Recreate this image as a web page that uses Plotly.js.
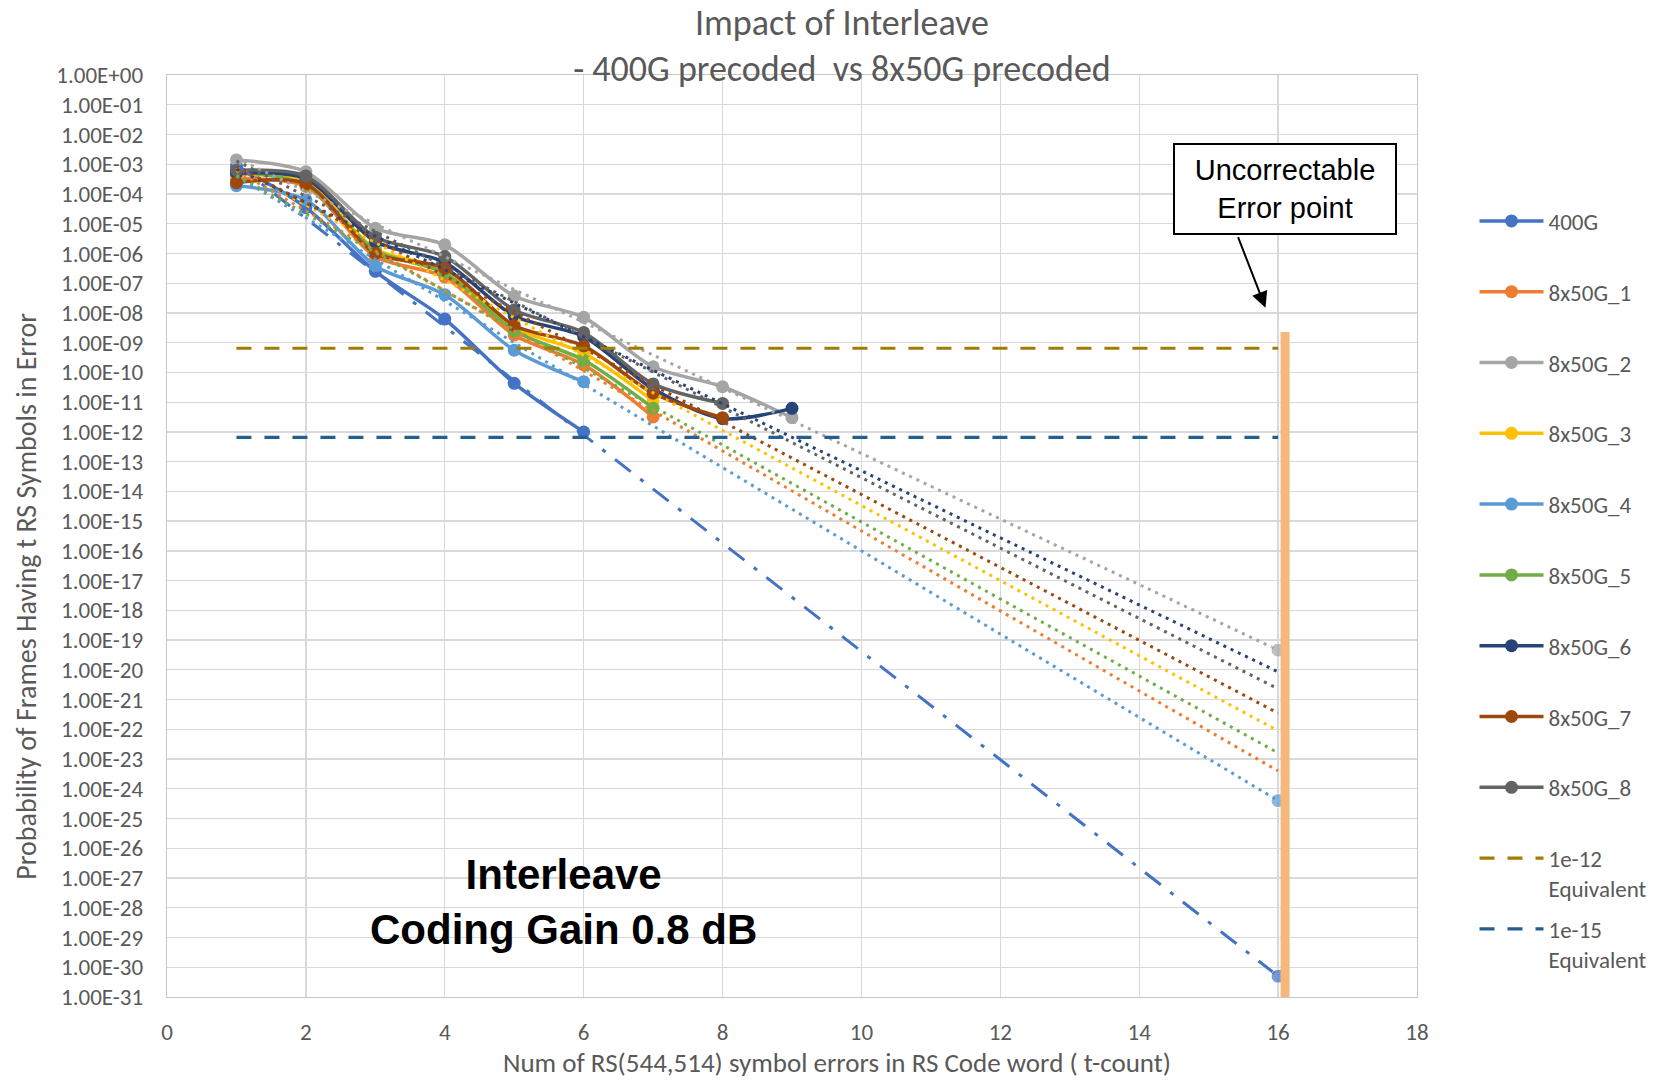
<!DOCTYPE html>
<html>
<head>
<meta charset="utf-8">
<script src="https://cdn.plot.ly/plotly-3.0.1.min.js"></script>
<style>html,body{margin:0;padding:0;background:#fff;}#chart{width:1665px;height:1081px;}</style>
</head>
<body>
<div id="chart"></div>
<script>
// ---- data ----
const seriesNames = ["400G","8x50G_1","8x50G_2","8x50G_3","8x50G_4","8x50G_5","8x50G_6","8x50G_7","8x50G_8"];
const xCounts = [1,2,3,4,5,6,7,8,9];
const y400G    = [8.9e-4, 3.5e-5, 2.5e-7, 6.2e-9, 4.3e-11, 1.0e-12];
const y8x50G_1 = [3.2e-4, 1.8e-4, 7.9e-7, 1.6e-7, 1.8e-9, 1.8e-10, 3.2e-12];
const y8x50G_2 = [1.4e-3, 5.6e-4, 7.1e-6, 1.95e-6, 3.7e-8, 7.1e-9, 1.55e-10, 3.3e-11, 3.0e-12];
const y8x50G_3 = [4.5e-4, 2.5e-4, 1.4e-6, 2.8e-7, 3.2e-9, 4.5e-10, 1.1e-11];
const y8x50G_4 = [1.9e-4, 6.3e-5, 3.8e-7, 4.1e-8, 5.6e-10, 4.9e-11];
const y8x50G_5 = [5.6e-4, 2.0e-4, 1.26e-6, 2.2e-7, 2.5e-9, 2.6e-10, 6.3e-12];
const y8x50G_6 = [5.0e-4, 3.2e-4, 2.5e-6, 5.0e-7, 7.9e-9, 1.6e-9, 2.8e-11, 2.8e-12, 6.2e-12];
const y8x50G_7 = [2.4e-4, 2.2e-4, 1.0e-6, 3.2e-7, 3.8e-9, 7.8e-10, 2.0e-11, 3.0e-12];
const y8x50G_8 = [6.3e-4, 4.0e-4, 3.5e-6, 7.9e-7, 1.26e-8, 2.2e-9, 4.1e-11, 9.1e-12];

// trendlines (exponential fits, straight on log axis) from t=1 to t=16
const trendX = [1, 16];
const trend400G    = [1.0e-3, 5.0e-31];
const trend8x50G_1 = [6.0e-4, 4.0e-24];
const trend8x50G_2 = [1.58e-3, 4.6e-20];
const trend8x50G_3 = [7.8e-4, 8.9e-23];
const trend8x50G_4 = [4.0e-4, 4.0e-25];
const trend8x50G_5 = [4.2e-4, 1.6e-23];
const trend8x50G_6 = [6.9e-4, 8.5e-21];
const trend8x50G_7 = [8.4e-4, 3.5e-22];
const trend8x50G_8 = [1.29e-3, 2.3e-21];

// equivalent reference levels
const eqX = [1, 16];
const eq1e12 = [6.5e-10, 6.5e-10];
const eq1e15 = [6.5e-13, 6.5e-13];

// uncorrectable error point bar
const uncX = [16.1, 16.1];
const uncY = [2.3e-9, 1e-31];

const xTickVals = [0,2,4,6,8,10,12,14,16,18];
const yTickVals = [1e0,1e-1,1e-2,1e-3,1e-4,1e-5,1e-6,1e-7,1e-8,1e-9,1e-10,1e-11,1e-12,1e-13,1e-14,1e-15,1e-16,1e-17,1e-18,1e-19,1e-20,1e-21,1e-22,1e-23,1e-24,1e-25,1e-26,1e-27,1e-28,1e-29,1e-30,1e-31];
const yTickText = ["1.00E+00","1.00E-01","1.00E-02","1.00E-03","1.00E-04","1.00E-05","1.00E-06","1.00E-07","1.00E-08","1.00E-09","1.00E-10","1.00E-11","1.00E-12","1.00E-13","1.00E-14","1.00E-15","1.00E-16","1.00E-17","1.00E-18","1.00E-19","1.00E-20","1.00E-21","1.00E-22","1.00E-23","1.00E-24","1.00E-25","1.00E-26","1.00E-27","1.00E-28","1.00E-29","1.00E-30","1.00E-31"];

// ---- styling ----
const colors = ["#4472C4","#ED7D31","#A5A5A5","#FFC000","#5B9BD5","#70AD47","#264478","#9E480E","#636363"];
const seriesY = [y400G,y8x50G_1,y8x50G_2,y8x50G_3,y8x50G_4,y8x50G_5,y8x50G_6,y8x50G_7,y8x50G_8];
const trendY = [trend400G,trend8x50G_1,trend8x50G_2,trend8x50G_3,trend8x50G_4,trend8x50G_5,trend8x50G_6,trend8x50G_7,trend8x50G_8];
const endMarker = [true,false,true,false,true,false,false,false,false];
const F = "Carlito, Lato, 'Open Sans', sans-serif";
const grey = "#595959";

const traces = [];
seriesNames.forEach((n,i)=>{
  traces.push({
    type:'scatter', mode:'lines+markers', name:n+'<br> ', legendgroup:'g'+i,
    x:xCounts.slice(0,seriesY[i].length), y:seriesY[i],
    line:{color:colors[i], width:3.5, shape:'spline', smoothing:0.8},
    marker:{color:colors[i], size:13}, hoverinfo:'x+y'
  });
});
seriesNames.forEach((n,i)=>{
  const t = {
    type:'scatter', mode: endMarker[i] ? 'lines+markers':'lines', showlegend:false,
    x:trendX, y:trendY[i],
    line:{color:colors[i], width:3, dash: i===0 ? '20px,12px,4px,12px' : '3px,5px'},
    hoverinfo:'skip'
  };
  if(endMarker[i]) t.marker = {color:colors[i], size:[0,14]};
  traces.push(t);
});
traces.push({type:'scatter', mode:'lines', name:'1e-12<br>Equivalent', legendgroup:'g9',
  x:eqX, y:eq1e12, line:{color:'#A07C00', width:3.2, dash:'15px,13px'}});
traces.push({type:'scatter', mode:'lines', name:'1e-15<br>Equivalent', legendgroup:'g10',
  x:eqX, y:eq1e15, line:{color:'#255E91', width:3.2, dash:'15px,13px'}});
traces.push({type:'scatter', mode:'lines', showlegend:false, x:uncX, y:uncY,
  line:{color:'#F4B77C', width:9}, hoverinfo:'skip'});

const layout = {
  width:1665, height:1081,
  paper_bgcolor:'#fff', plot_bgcolor:'#fff',
  margin:{l:167, r:248, t:75, b:84},
  font:{family:F, color:grey},
  title:{text:'Impact of Interleave<br>- 400G precoded  vs 8x50G precoded',
    font:{family:F, size:36, color:grey}, x:0.5057, xanchor:'center', y:0.968, yanchor:'middle'},
  xaxis:{range:[0,18], tickvals:xTickVals, ticks:'', showgrid:true, gridcolor:'#D9D9D9', gridwidth:1.3,
    zeroline:false, showline:true, mirror:true, linecolor:'#C8C8C8', linewidth:1.3,
    tickfont:{family:F, size:23, color:grey}, ticklabelstandoff:14},
  yaxis:{type:'log', range:[-31,0], tickvals:yTickVals, ticktext:yTickText, ticks:'',
    showgrid:true, gridcolor:'#D9D9D9', gridwidth:1.3, zeroline:false, showline:true, mirror:true,
    linecolor:'#C8C8C8', linewidth:1.3, tickfont:{family:F, size:23, color:grey}, ticklabelstandoff:18},
  showlegend:true,
  legend:{x:1.046, xanchor:'left', y:0.865, yanchor:'top', valign:'top', tracegroupgap:8,
    itemwidth:64, font:{family:F, size:23, color:grey}, bgcolor:'rgba(0,0,0,0)'},
  annotations:[
    {xref:'paper', yref:'paper', x:-0.1122, y:0.435, text:'Probability of Frames Having t RS Symbols in Error',
      textangle:-90, showarrow:false, font:{family:F, size:28, color:grey}, xanchor:'center', yanchor:'middle'},
    {xref:'paper', yref:'paper', x:0.5363, y:-0.071, text:'Num of RS(544,514) symbol errors in RS Code word ( t-count)',
      showarrow:false, font:{family:F, size:27, color:grey}, xanchor:'center', yanchor:'middle'},
    {xref:'paper', yref:'paper', x:0.317, y:0.1035, text:'<b>Interleave</b><br><b>Coding Gain 0.8 dB</b>',
      showarrow:false, font:{family:'Liberation Sans, Arial, sans-serif', size:42, color:'#000'}, xanchor:'center', yanchor:'middle'},
    {xref:'paper', yref:'paper', x:0.8946, y:0.8767, text:'Uncorrectable<br>Error point',
      showarrow:false, font:{family:'Liberation Sans, Arial, sans-serif', size:29, color:'#000'},
      bgcolor:'#fff', bordercolor:'#000', borderwidth:2, borderpad:2, width:216, height:84,
      xanchor:'center', yanchor:'middle'},
    {xref:'paper', yref:'paper', x:0.8788, y:0.7476, text:'', showarrow:true, ax:-28, ay:-72,
      arrowhead:2, arrowsize:1.6, arrowwidth:2, arrowcolor:'#000'}
  ]
};
Plotly.newPlot('chart', traces, layout, {staticPlot:true, displayModeBar:false});
</script>
</body>
</html>
